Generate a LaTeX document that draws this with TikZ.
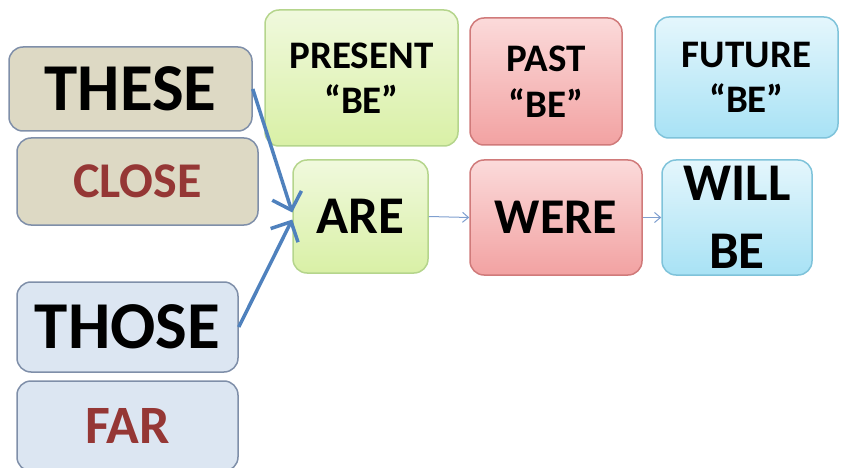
\documentclass[tikz,border=0pt]{standalone}
\usepackage{fontspec}
\setmainfont{Carlito}
\usetikzlibrary{arrows.meta}
\definecolor{tanfill}{HTML}{DDD9C4}
\definecolor{bluefill}{HTML}{DCE6F2}
\definecolor{greyedge}{HTML}{7F8FA9}
\definecolor{greentop}{HTML}{F0F9DD}
\definecolor{greenbot}{HTML}{D9F0A6}
\definecolor{greenedge}{HTML}{B5D58C}
\definecolor{redtop}{HTML}{FBDADA}
\definecolor{redbot}{HTML}{F2A2A2}
\definecolor{rededge}{HTML}{D07A7A}
\definecolor{cyantop}{HTML}{E4F6FC}
\definecolor{cyanbot}{HTML}{A8E2F5}
\definecolor{cyanedge}{HTML}{7FC3DA}
\definecolor{darkred}{HTML}{953735}
\definecolor{arrowblue}{HTML}{4F81BD}
\definecolor{thinblue}{HTML}{7F9FCF}
\newcommand{\fs}[2]{\fontsize{#1}{#2}\selectfont\bfseries}
\tikzset{
  box/.style={rectangle, rounded corners=14pt, line width=1.5pt, align=center, inner sep=0pt},
  tanbox/.style={box, draw=greyedge, fill=tanfill},
  bluebox/.style={box, draw=greyedge, fill=bluefill},
  greenbox/.style={box, draw=greenedge, top color=greentop, bottom color=greenbot},
  redbox/.style={box, draw=rededge, top color=redtop, bottom color=redbot},
  cyanbox/.style={box, draw=cyanedge, top color=cyantop, bottom color=cyanbot},
  bigarrow/.style={draw=arrowblue, line width=3.5pt, -{Straight Barb[scale=1.8]}},
  thinarrow/.style={draw=thinblue, line width=1pt, -{Straight Barb[length=6pt,width=10pt]}}
}
\begin{document}
\begin{tikzpicture}[x=1pt,y=-1pt]
\useasboundingbox (0,0) rectangle (841,468);
% left column
\node[tanbox, minimum width=243pt, minimum height=84pt, font=\fs{67}{67}] (these) at (130.5,89) {THESE};
\node[tanbox, minimum width=241pt, minimum height=87pt, font=\fs{50}{50}, text=darkred] (close) at (137.5,181.5) {CLOSE};
\node[bluebox, minimum width=221pt, minimum height=90pt, font=\fs{67}{67}] (those) at (127.5,327) {THOSE};
\node[bluebox, minimum width=221pt, minimum height=90pt, font=\fs{54}{54}, text=darkred] (far) at (127.5,426) {FAR};
% header boxes
\node[greenbox, minimum width=193pt, minimum height=136pt, font=\fs{39}{45}] (present) at (361.5,78) {PRESENT\\“BE”};
\node[redbox, minimum width=152pt, minimum height=127pt, font=\fs{39}{46}] (past) at (546,81.5) {PAST\\“BE”};
\node[cyanbox, minimum width=183pt, minimum height=121pt, font=\fs{39}{45}] (future) at (746.5,77.5) {FUTURE\\“BE”};
% tense boxes
\node[greenbox, minimum width=135pt, minimum height=113pt, font=\fs{53}{53}] (are) at (360.5,216.5) {ARE};
\node[redbox, minimum width=172pt, minimum height=115pt, font=\fs{50}{50}] (were) at (556,217.5) {WERE};
\node[cyanbox, minimum width=150pt, minimum height=115pt, font=\fs{53}{68}] (will) at (737,217.5) {WILL\\BE};
% connectors
\draw[bigarrow] (these.east) -- ([yshift=4pt]are.west);
\draw[bigarrow] (those.east) -- ([yshift=-3pt]are.west);
\draw[thinarrow] (are.east) -- (were.west);
\draw[thinarrow] (were.east) -- (will.west);
\end{tikzpicture}
\end{document}
